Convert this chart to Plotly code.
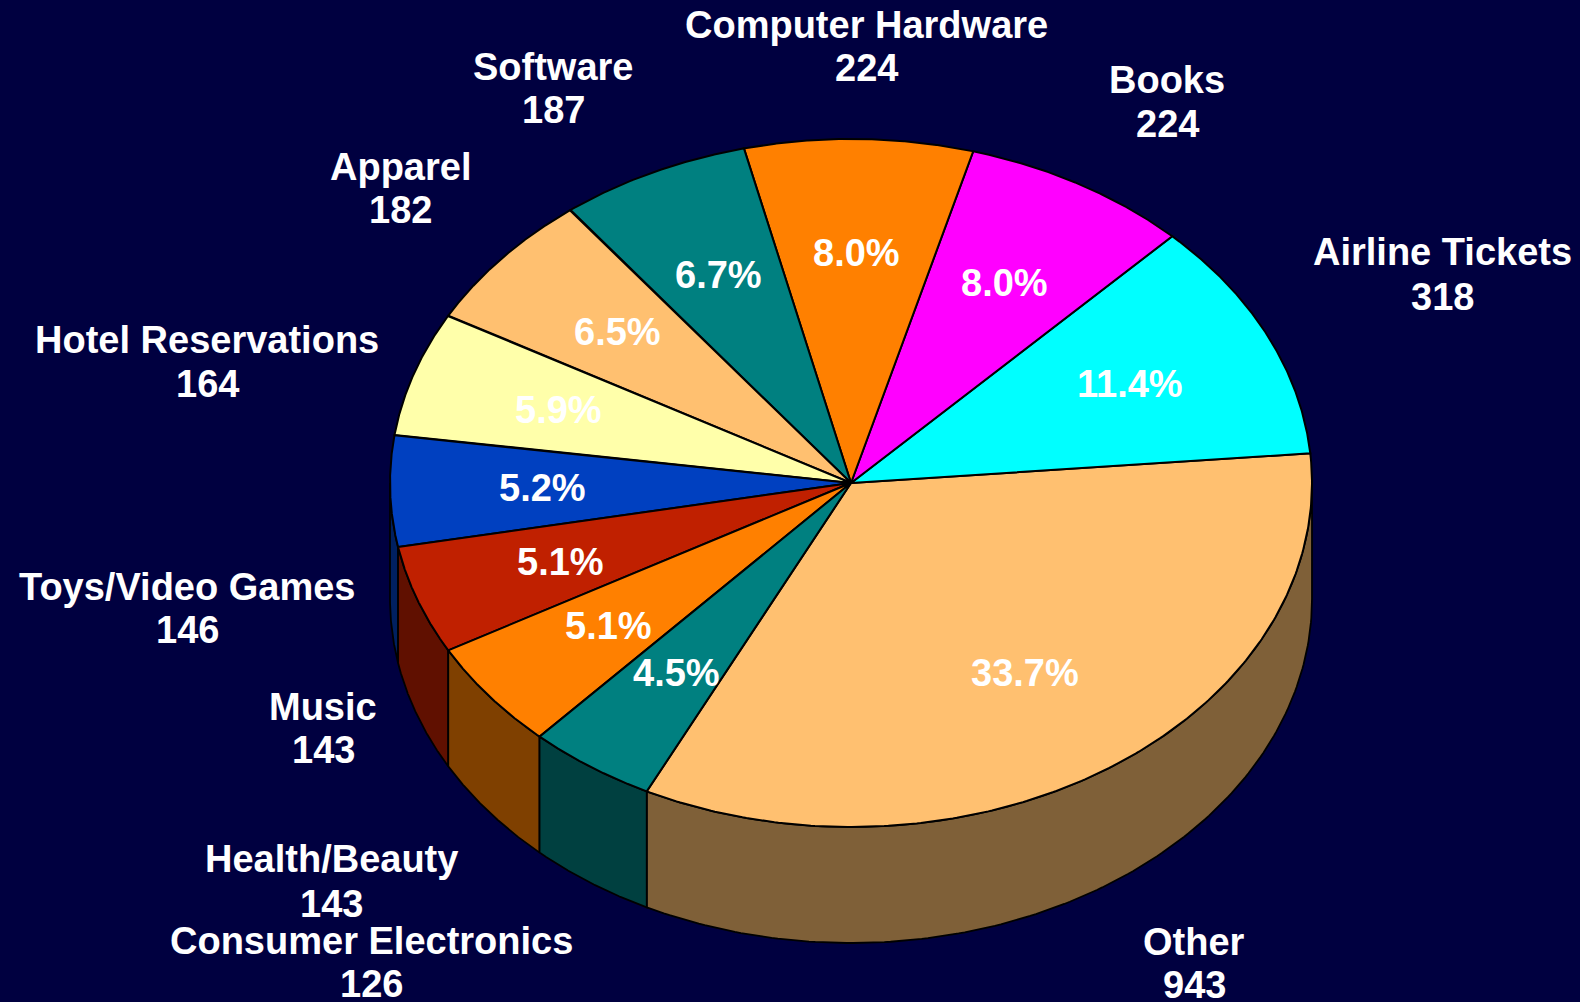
import numpy as np
import plotly.graph_objects as go

# ---------------- data ----------------
categories = ["Other", "Airline Tickets", "Books", "Computer Hardware", "Software",
              "Apparel", "Hotel Reservations", "Toys/Video Games", "Music",
              "Health/Beauty", "Consumer Electronics"]
values = [943, 318, 224, 224, 187, 182, 164, 146, 143, 143, 126]

# ---------------- styles / layout ----------------
slice_colors = ["#FFC070", "#00FFFF", "#FF00FF", "#FF8000", "#008080",
                "#FFC070", "#FFFFAA", "#0040C0", "#C02000", "#FF8000", "#008080"]
# outside label placement (text centre x, name line y, value line y) in page pixels
label_pos = [(1194, 942, 985), (1442, 252, 297), (1167, 80, 124), (866, 25, 68),
             (553, 67, 110), (400, 167, 210), (207, 340, 384), (187, 587, 630),
             (323, 707, 750), (331, 859, 904), (371, 941, 984)]

BG = "#000040"
W, H = 1580, 1002
CX, CY, RX, RY, DEPTH = 851, 483, 461, 344, 116
START_DEG = -116.3
FONT = "Liberation Sans, Arial, sans-serif"
FS = 38


def darker(hexc, f=0.5):
    h = hexc.lstrip("#")
    r, g, b = (int(h[i:i + 2], 16) for i in (0, 2, 4))
    return "#%02X%02X%02X" % (int(r * f), int(g * f), int(b * f))


def rim(t_deg, dy=0.0):
    t = np.radians(t_deg)
    return CX + RX * np.cos(t), CY - RY * np.sin(t) + dy


total = float(sum(values))
fracs = np.array(values, dtype=float) / total
edges = START_DEG + 360.0 * np.concatenate([[0.0], np.cumsum(fracs)])

fig = go.Figure()

# side walls (front half of the cylinder)
for i, c in enumerate(slice_colors):
    a0, a1 = edges[i], edges[i + 1]
    for k in (-1, 0, 1):
        lo = max(a0, 180 + 360 * k)
        hi = min(a1, 360 + 360 * k)
        if hi > lo:
            t = np.linspace(lo, hi, 150)
            xt, yt = rim(t)
            xb, yb = rim(t[::-1], DEPTH)
            xs = np.concatenate([xt, xb, [xt[0]]])
            ys = np.concatenate([yt, yb, [yt[0]]])
            fig.add_trace(go.Scatter(x=xs, y=ys, mode="lines", fill="toself",
                                     fillcolor=darker(c),
                                     line=dict(color="black", width=1.8),
                                     hoverinfo="skip", showlegend=False))

# top faces
for i, c in enumerate(slice_colors):
    a0, a1 = edges[i], edges[i + 1]
    t = np.linspace(a0, a1, 240)
    x, y = rim(t)
    xs = np.concatenate([[CX], x, [CX]])
    ys = np.concatenate([[CY], y, [CY]])
    fig.add_trace(go.Scatter(x=xs, y=ys, mode="lines", fill="toself",
                             fillcolor=c, line=dict(color="black", width=2),
                             hoverinfo="skip", showlegend=False,
                             name=categories[i]))

annotations = []
# percentage labels inside the slices
for i, v in enumerate(values):
    mid = 0.5 * (edges[i] + edges[i + 1])
    t = np.radians(mid)
    px = CX + 0.67 * RX * np.cos(t)
    py = CY - 0.67 * RY * np.sin(t)
    annotations.append(dict(x=px, y=py, xref="x", yref="y", showarrow=False,
                            text="<b>%.1f%%</b>" % (100.0 * v / total),
                            font=dict(family=FONT, size=FS, color="white"),
                            xanchor="center", yanchor="middle"))

# category name + value labels outside
for (lx, ny, vy), name, v in zip(label_pos, categories, values):
    annotations.append(dict(x=lx, y=ny, xref="x", yref="y", showarrow=False,
                            text="<b>%s</b>" % name,
                            font=dict(family=FONT, size=FS, color="white"),
                            xanchor="center", yanchor="middle"))
    annotations.append(dict(x=lx, y=vy, xref="x", yref="y", showarrow=False,
                            text="<b>%d</b>" % v,
                            font=dict(family=FONT, size=FS, color="white"),
                            xanchor="center", yanchor="middle"))

fig.update_layout(
    width=W, height=H, autosize=False,
    margin=dict(l=0, r=0, t=0, b=0, pad=0),
    paper_bgcolor=BG, plot_bgcolor=BG,
    xaxis=dict(range=[0, W], visible=False, fixedrange=True),
    yaxis=dict(range=[H, 0], visible=False, fixedrange=True),
    showlegend=False,
    annotations=annotations,
)

fig.write_html("out.html",
               config={"displayModeBar": False},
               post_script="document.body.style.margin='0';"
                           "document.body.style.background='%s';"
                           "document.body.style.overflow='hidden';" % BG)
